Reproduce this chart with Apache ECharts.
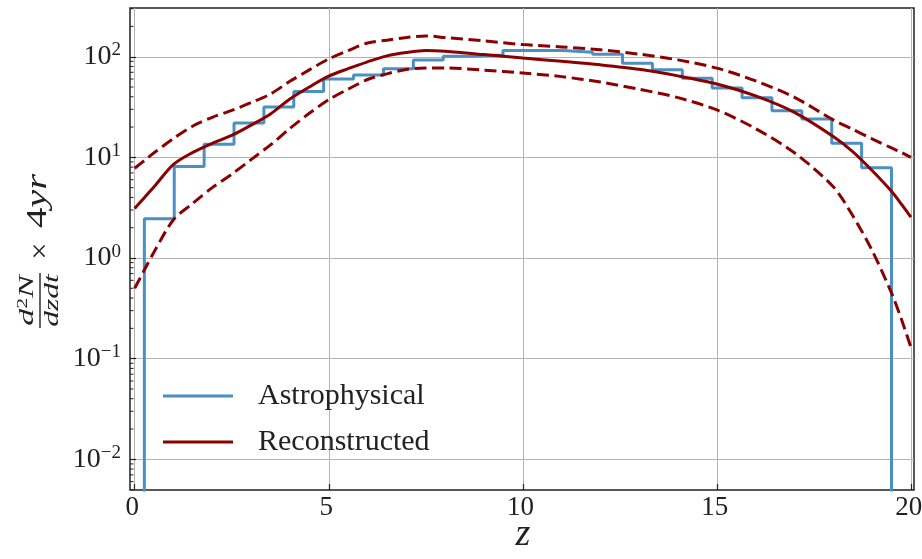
<!DOCTYPE html>
<html>
<head>
<meta charset="utf-8">
<title>Redshift distribution</title>
<script src="https://cdn.jsdelivr.net/npm/echarts@6/dist/echarts.min.js"></script>
<style>
  html, body { margin: 0; padding: 0; background: #ffffff; }
  #chart { width: 922px; height: 559px; }
</style>
</head>
<body>
<div id="chart"></div>
<script>
// Histogram of the astrophysical population: bin edges in z and counts per bin
const binEdges = [0.25, 1.02, 1.79, 2.56, 3.33, 4.10, 4.87, 5.64, 6.41, 7.18, 7.95, 8.72, 9.49,
  10.26, 11.03, 11.80, 12.57, 13.34, 14.11, 14.88, 15.65, 16.42, 17.19, 17.96, 18.73, 19.50];
const histCounts = [2.45, 8.1, 13.5, 21.9, 31.6, 45, 60, 66, 76, 93, 101, 104, 115,
  115, 111, 106, 86, 74, 61, 49, 39, 29, 24, 13.8, 7.9];

// Reconstructed rate: median and the two bounds of the band, sampled in z
const zGrid = [0, 0.25, 0.5, 1, 1.5, 2, 2.5, 3, 3.5, 4, 4.5, 5, 5.5, 6, 6.5, 7, 7.5, 8,
  9, 10, 11, 12, 13, 14, 15, 16, 17, 18, 18.5, 19, 19.5, 19.75, 20];
const recMedian = [3.1, 3.98, 5.1, 8.5, 11.2, 13.8, 16.5, 20.9, 27, 38, 50, 64, 76, 89, 102, 110, 115, 113,
  105, 97, 90, 83, 75, 64.5, 53.6, 40.8, 28, 16.1, 11.4, 7.4, 4.6, 3.45, 2.55];
const recUpper = [7.8, 9.3, 11.1, 15.4, 20.5, 25, 29.3, 35, 42.6, 57, 74, 95, 115, 137, 146, 155, 161, 155,
  144, 132, 125, 117, 106, 93, 77, 57.5, 39.5, 23.6, 19, 15.3, 12.4, 11.2, 10];
const recLower = [0.5, 0.76, 1.15, 2.4, 3.5, 5.0, 6.8, 9.5, 13.3, 19.4, 27.4, 37.4, 47.6, 59.4, 67.6, 74.8, 77.2, 77.3,
  73.6, 68.9, 63.4, 56, 47.5, 39.2, 29.6, 19.3, 11.1, 5.1, 2.64, 1.19, 0.45, 0.25, 0.13];

// Axis ranges and tick values
const xRange = [-0.12, 20.08];
const xTickRange = [0, 20];
const xTickStep = 5;
const yRange = [Math.pow(10, -2.305), Math.pow(10, 2.484)];
const yTickRange = [0.01, 100];
const yMinorTicks = [0.005, 0.006, 0.007, 0.008, 0.009,
  0.02, 0.03, 0.04, 0.05, 0.06, 0.07, 0.08, 0.09,
  0.2, 0.3, 0.4, 0.5, 0.6, 0.7, 0.8, 0.9,
  2, 3, 4, 5, 6, 7, 8, 9,
  20, 30, 40, 50, 60, 70, 80, 90,
  200, 300];

const FONT = 'Liberation Serif';
const INK = '#222222';
const BLUE = '#4a90c2';
const RED = '#8b0000';
const GRIDLINE = '#b4b4b4';
const HIST_FLOOR = 1e-4;

// Step outline of the histogram, dropping below the axis at both ends
const histLine = [[binEdges[0], HIST_FLOOR]];
histCounts.forEach((c, i) => {
  histLine.push([binEdges[i], c]);
  histLine.push([binEdges[i + 1], c]);
});
histLine.push([binEdges[binEdges.length - 1], HIST_FLOOR]);

const pairs = (ys) => zGrid.map((z, i) => [z, ys[i]]);

const chart = echarts.init(document.getElementById('chart'), null, { renderer: 'canvas' });

const superscript = (v) => {
  const e = Math.round(Math.log10(v));
  return '{b|10}{s|' + (e < 0 ? '\u2212' + (-e) : e) + '}';
};

chart.setOption({
  animation: false,
  backgroundColor: '#ffffff',
  grid: [
    // data area with frame
    { left: 130, right: 8, top: 8, bottom: 69, outerBoundsMode: 'none', containLabel: false,
      show: true, borderColor: INK, borderWidth: 1.5, backgroundColor: 'transparent' },
    // x ticks / vertical grid lines (0..20)
    { left: 134.7, right: 10.7, top: 8, bottom: 69, outerBoundsMode: 'none', containLabel: false },
    // y ticks / horizontal grid lines (1e-2..1e2)
    { left: 130, right: 8, top: 56.9, bottom: 99.7, outerBoundsMode: 'none', containLabel: false }
  ],
  xAxis: [
    { gridIndex: 0, type: 'value', min: xRange[0], max: xRange[1], show: false },
    {
      gridIndex: 1, type: 'value', min: xTickRange[0], max: xTickRange[1], interval: xTickStep,
      axisLine: { show: false, onZero: false },
      axisTick: { show: true, inside: true, length: 6, lineStyle: { color: INK, width: 1.2 } },
      axisLabel: { fontFamily: FONT, fontSize: 27, color: INK, margin: 4, hideOverlap: false, padding: [0, 5, 0, 0] },
      splitLine: { show: true, lineStyle: { color: GRIDLINE, width: 1 } },
      name: 'z', nameLocation: 'middle', nameGap: 26, nameMoveOverlap: false,
      nameTextStyle: { fontFamily: FONT, fontStyle: 'italic', fontSize: 38, color: INK }
    },
    { gridIndex: 2, type: 'value', show: false }
  ],
  yAxis: [
    { gridIndex: 0, type: 'log', logBase: 10, min: yRange[0], max: yRange[1], show: false },
    { gridIndex: 1, type: 'value', show: false },
    {
      gridIndex: 2, type: 'log', logBase: 10, min: yTickRange[0], max: yTickRange[1],
      axisLine: { show: false, onZero: false },
      axisTick: { show: true, inside: true, length: 6, lineStyle: { color: INK, width: 1.2 } },
      axisLabel: {
        margin: 9,
        formatter: superscript,
        rich: {
          b: { fontFamily: FONT, fontSize: 28, lineHeight: 32, color: INK },
          s: { fontFamily: FONT, fontSize: 19, verticalAlign: 'top', color: INK }
        }
      },
      splitLine: { show: true, lineStyle: { color: GRIDLINE, width: 1 } }
    }
  ],
  legend: {
    data: ['Astrophysical', 'Reconstructed'],
    orient: 'vertical', left: 158, top: 376,
    icon: 'rect', itemWidth: 70, itemHeight: 3, itemGap: 16,
    selectedMode: false,
    textStyle: { fontFamily: FONT, fontSize: 30, lineHeight: 30, color: INK, padding: [0, 0, 0, 20] }
  },
  graphic: [{
    type: 'group', x: 40, y: 255, rotation: Math.PI / 2, silent: true,
    children: [
      {
        type: 'text', x: -45.5, y: -2, scaleX: 1.55,
        style: {
          text: '{i|d}{p|2}{i|N}', align: 'center', verticalAlign: 'bottom',
          rich: {
            i: { fontFamily: FONT, fontStyle: 'italic', fontSize: 22, fill: INK },
            p: { fontFamily: FONT, fontSize: 14, verticalAlign: 'top', fill: INK }
          }
        }
      },
      { type: 'line', shape: { x1: -73, y1: 0, x2: -18, y2: 0 }, style: { stroke: INK, lineWidth: 1.4 } },
      {
        type: 'text', x: -45.5, y: 2, scaleX: 1.5,
        style: { text: 'dzdt', fontFamily: FONT, fontStyle: 'italic', fontSize: 21, fill: INK, align: 'center', verticalAlign: 'top' }
      },
      {
        type: 'text', x: 4, y: 1,
        style: { text: '\u00d7', fontFamily: FONT, fontSize: 30, fill: INK, align: 'center', verticalAlign: 'middle' }
      },
      {
        type: 'text', x: 27, y: -2, scaleX: 1.4,
        style: {
          text: '{n|4}{i|yr}', align: 'left', verticalAlign: 'middle',
          rich: {
            n: { fontFamily: FONT, fontSize: 29, fill: INK },
            i: { fontFamily: FONT, fontStyle: 'italic', fontSize: 29, fill: INK }
          }
        }
      }
    ]
  }],
  series: [
    {
      name: 'Astrophysical', type: 'line', xAxisIndex: 0, yAxisIndex: 0,
      data: histLine, showSymbol: false, symbol: 'none', clip: true, z: 2,
      color: BLUE, itemStyle: { color: BLUE },
      lineStyle: { color: BLUE, width: 3 }
    },
    {
      name: 'Reconstructed', type: 'line', xAxisIndex: 0, yAxisIndex: 0,
      data: pairs(recMedian), showSymbol: false, symbol: 'none', smooth: 0.3, clip: true, z: 3,
      color: RED, itemStyle: { color: RED },
      lineStyle: { color: RED, width: 3 }
    },
    {
      name: 'Reconstructed upper', type: 'line', xAxisIndex: 0, yAxisIndex: 0,
      data: pairs(recUpper), showSymbol: false, symbol: 'none', smooth: 0.3, clip: true, z: 3,
      color: RED, lineStyle: { color: RED, width: 3, type: [12, 5.5] }
    },
    {
      name: 'Reconstructed lower', type: 'line', xAxisIndex: 0, yAxisIndex: 0,
      data: pairs(recLower), showSymbol: false, symbol: 'none', smooth: 0.3, clip: true, z: 3,
      color: RED, lineStyle: { color: RED, width: 3, type: [12, 5.5] }
    },
    {
      // minor ticks of the logarithmic axis, drawn inward from the left frame
      name: 'minor ticks', type: 'custom', xAxisIndex: 0, yAxisIndex: 0, silent: true, clip: false, z: 4,
      data: yMinorTicks.map(v => [xRange[0], v]),
      renderItem: (params, api) => {
        const p = api.coord([xRange[0], api.value(1)]);
        return {
          type: 'line',
          shape: { x1: p[0], y1: p[1], x2: p[0] + 3.5, y2: p[1] },
          style: { stroke: INK, lineWidth: 1 }
        };
      }
    }
  ]
});
</script>
</body>
</html>
